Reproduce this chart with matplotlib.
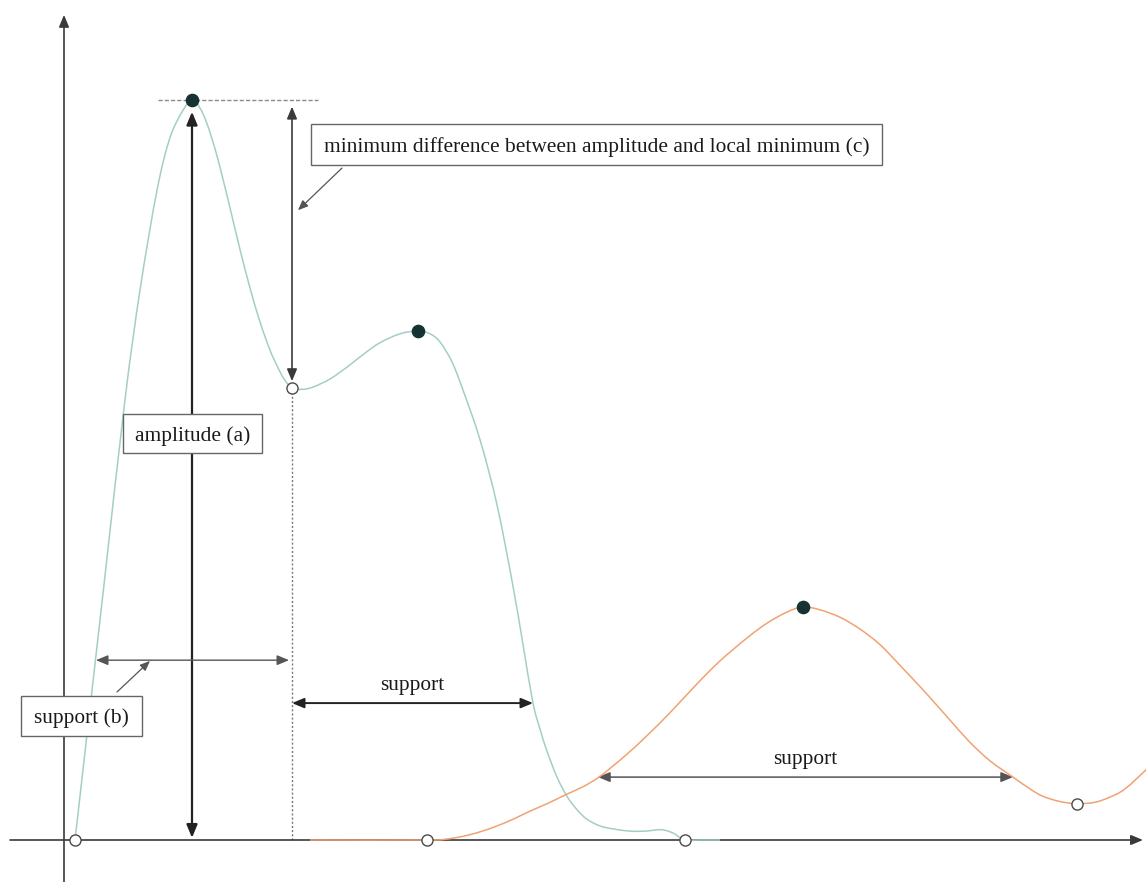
import matplotlib
matplotlib.use("Agg")
import matplotlib.pyplot as plt
from matplotlib.patches import Rectangle, PathPatch
from matplotlib.path import Path

# --- signal traces (time, intensity) ---
green_x = [0.11, 0.26, 0.41, 0.61, 0.76, 0.93, 1.06, 1.19, 1.28, 1.36, 1.43, 1.51, 1.59,
           1.68, 1.76, 1.86, 1.96, 2.06, 2.13, 2.20, 2.28, 2.38, 2.49, 2.66, 2.83, 3.01,
           3.16, 3.36, 3.54, 3.66, 3.76, 3.88, 3.99, 4.16, 4.33, 4.49, 4.59, 4.69, 4.76,
           4.83, 4.93, 5.03, 5.13, 5.23, 5.36, 5.49, 5.66, 5.81, 5.96, 6.04, 6.11, 6.16,
           6.21, 6.36, 6.56]
green_y = [0.00, 1.78, 3.57, 5.95, 7.43, 8.78, 9.49, 9.86, 10.00, 9.89, 9.68, 9.34, 8.93,
           8.43, 7.98, 7.46, 7.00, 6.62, 6.41, 6.23, 6.11, 6.09, 6.12, 6.23, 6.39, 6.58,
           6.72, 6.84, 6.88, 6.84, 6.73, 6.46, 6.08, 5.41, 4.53, 3.43, 2.64, 1.85, 1.50,
           1.20, 0.85, 0.59, 0.41, 0.28, 0.19, 0.15, 0.12, 0.12, 0.14, 0.12, 0.08, 0.03,
           0.00, 0.00, 0.00]

orange_x = [2.46, 3.63, 3.81, 3.99, 4.16, 4.33, 4.49, 4.66, 4.83, 5.03, 5.19, 5.34, 5.48,
            5.63, 5.83, 6.06, 6.33, 6.56, 6.83, 7.03, 7.23, 7.39, 7.56, 7.76, 7.96, 8.16,
            8.36, 8.63, 8.86, 9.06, 9.26, 9.49, 9.66, 9.79, 9.96, 10.13, 10.31, 10.46,
            10.61, 10.83]
orange_y = [0.00, 0.00, 0.01, 0.05, 0.11, 0.19, 0.28, 0.39, 0.49, 0.62, 0.72, 0.84, 0.99,
            1.16, 1.41, 1.72, 2.11, 2.42, 2.73, 2.93, 3.08, 3.15, 3.11, 3.01, 2.85, 2.64,
            2.36, 1.97, 1.62, 1.32, 1.07, 0.85, 0.69, 0.59, 0.52, 0.49, 0.51, 0.58,
            0.69, 0.96]

# detected maxima (filled) and minima / boundaries (open)
max_x = [1.28, 3.54, 7.39]
max_y = [10.00, 6.88, 3.15]
min_x = [0.11, 2.28, 3.63, 6.21, 10.13]
min_y = [0.00, 6.11, 0.00, 0.00, 0.49]

# support intervals: (start, end, level)
support_b = (0.32, 2.25, 2.43)
support_2 = (2.28, 4.69, 1.85)
support_3 = (5.34, 9.49, 0.85)

label_c = "minimum difference between amplitude and local minimum (c)"
label_a = "amplitude (a)"
label_b = "support (b)"
label_s = "support"

W, H = 1146, 882
fig = plt.figure(figsize=(W / 100, H / 100), dpi=100)
ax = fig.add_axes([0, 0, 1, 1])
ax.set_xlim(-0.64, 10.82)
ax.set_ylim(-0.5676, 11.351)
ax.axis("off")

FONT = dict(family="Liberation Serif", size=15.4, color="#1a1a1a")
AX_COL = "#3a3a3a"


def arrow(p0, p1, style="<|-|>", lw=1.0, color="#444444", ms=12, z=3):
    ax.annotate("", xy=p1, xytext=p0,
                arrowprops=dict(arrowstyle=f"{style},head_length=0.6,head_width=0.25",
                                lw=lw, color=color, mutation_scale=ms,
                                shrinkA=0, shrinkB=0), zorder=z)


def smooth_trace(xs, ys, color, lw=1.1):
    """Draw a trace as a smooth curve through its points (Catmull-Rom as Bezier)."""
    pts = list(zip(xs, ys))
    n = len(pts)
    verts = [pts[0]]
    codes = [Path.MOVETO]
    for i in range(n - 1):
        p0 = pts[max(i - 1, 0)]
        p1 = pts[i]
        p2 = pts[i + 1]
        p3 = pts[min(i + 2, n - 1)]
        c1 = (p1[0] + (p2[0] - p0[0]) / 6, p1[1] + (p2[1] - p0[1]) / 6)
        c2 = (p2[0] - (p3[0] - p1[0]) / 6, p2[1] - (p3[1] - p1[1]) / 6)
        verts += [c1, c2, p2]
        codes += [Path.CURVE4] * 3
    ax.add_patch(PathPatch(Path(verts, codes), facecolor="none", edgecolor=color,
                           lw=lw, zorder=4))


# coordinate axes
arrow((0.0, -0.57), (0.0, 11.15), style="-|>", lw=1.2, color=AX_COL)
arrow((-0.54, 0.0), (10.79, 0.0), style="-|>", lw=1.2, color=AX_COL)

# traces
smooth_trace(green_x, green_y, "#a3cfc3")
smooth_trace(orange_x, orange_y, "#f0a274")

# reference lines at the main peak and the local minimum
ax.plot([0.94, 2.54], [max_y[0], max_y[0]], color="#8a8a8a", lw=1.0,
        ls=(0, (3, 1.5)), zorder=2)
ax.plot([min_x[1], min_x[1]], [0, min_y[1]], color="#777777", lw=1.0,
        ls=(0, (1.5, 1.5)), zorder=2)

# amplitude (a)
arrow((max_x[0], 0.03), (max_x[0], max_y[0] - 0.16), lw=1.6, color="#222222", ms=13)
# minimum difference (c)
arrow((min_x[1], min_y[1] + 0.09), (min_x[1], max_y[0] - 0.09), lw=1.2, color="#3a3a3a")

# support arrows
arrow((support_b[0], support_b[2]), (support_b[1], support_b[2]), lw=1.0, color="#555555")
arrow((support_2[0], support_2[2]), (support_2[1], support_2[2]), lw=1.4, color="#222222")
arrow((support_3[0], support_3[2]), (support_3[1], support_3[2]), lw=1.1, color="#555555")

# markers
ax.plot(max_x, max_y, "o", ms=8.8, color="#173232", zorder=6)
ax.plot(min_x, min_y, "o", ms=8, mfc="white", mec="#4a4a4a", mew=1.0, zorder=6)


def boxed(x0, x1, y0, y1, text):
    ax.add_patch(Rectangle((x0, y0), x1 - x0, y1 - y0, facecolor="white",
                           edgecolor="#666666", lw=1.0, zorder=7))
    ax.text((x0 + x1) / 2, (y0 + y1) / 2, text, ha="center", va="center_baseline",
            zorder=8, **FONT)


boxed(2.47, 8.18, 9.12, 9.68, label_c)
boxed(0.59, 1.98, 5.23, 5.76, label_a)
boxed(-0.43, 0.78, 1.41, 1.95, label_b)

# pointers from labels
arrow((2.78, 9.08), (2.34, 8.51), style="-|>", lw=0.9, color="#555555", ms=10)
arrow((0.53, 2.00), (0.86, 2.42), style="-|>", lw=0.9, color="#555555", ms=10)

ax.text((support_2[0] + support_2[1]) / 2, support_2[2] + 0.18, label_s,
        ha="center", va="baseline", **FONT)
ax.text((support_3[0] + support_3[1]) / 2, support_3[2] + 0.18, label_s,
        ha="center", va="baseline", **FONT)

fig.savefig("out.png", dpi=100, facecolor="white")
